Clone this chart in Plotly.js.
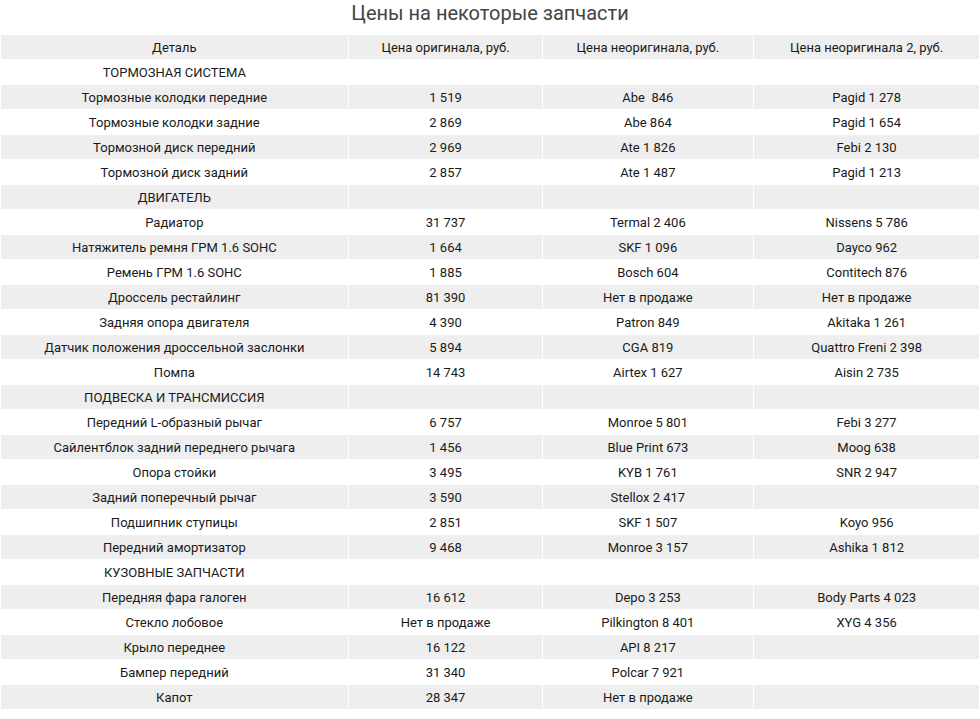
<!DOCTYPE html>
<html>
<head>
<meta charset="utf-8">
<script src="https://cdn.plot.ly/plotly-3.0.1.min.js"></script>
<style>html,body{margin:0;padding:0;background:#fff;}#chart{width:980px;height:719px;}</style>
</head>
<body>
<div id="chart"></div>
<script>
const headers = ["Деталь", "Цена оригинала, руб.", "Цена неоригинала, руб.", "Цена неоригинала 2, руб."];

const parts = [
  "ТОРМОЗНАЯ СИСТЕМА",
  "Тормозные колодки передние",
  "Тормозные колодки задние",
  "Тормозной диск передний",
  "Тормозной диск задний",
  "ДВИГАТЕЛЬ",
  "Радиатор",
  "Натяжитель ремня ГРМ 1.6 SOHC",
  "Ремень ГРМ 1.6 SOHC",
  "Дроссель рестайлинг",
  "Задняя опора двигателя",
  "Датчик положения дроссельной заслонки",
  "Помпа",
  "ПОДВЕСКА И ТРАНСМИССИЯ",
  "Передний L-образный рычаг",
  "Сайлентблок задний переднего рычага",
  "Опора стойки",
  "Задний поперечный рычаг",
  "Подшипник ступицы",
  "Передний амортизатор",
  "КУЗОВНЫЕ ЗАПЧАСТИ",
  "Передняя фара галоген",
  "Стекло лобовое",
  "Крыло переднее",
  "Бампер передний",
  "Капот"
];

const originalPrice = [
  "", "1 519", "2 869", "2 969", "2 857",
  "", "31 737", "1 664", "1 885", "81 390", "4 390", "5 894", "14 743",
  "", "6 757", "1 456", "3 495", "3 590", "2 851", "9 468",
  "", "16 612", "Нет в продаже", "16 122", "31 340", "28 347"
];

const nonOriginal1 = [
  "", "Abe  846", "Abe 864", "Ate 1 826", "Ate 1 487",
  "", "Termal 2 406", "SKF 1 096", "Bosch 604", "Нет в продаже", "Patron 849", "CGA 819", "Airtex 1 627",
  "", "Monroe 5 801", "Blue Print 673", "KYB 1 761", "Stellox 2 417", "SKF 1 507", "Monroe 3 157",
  "", "Depo 3 253", "Pilkington 8 401", "API 8 217", "Polcar 7 921", "Нет в продаже"
];

const nonOriginal2 = [
  "", "Pagid 1 278", "Pagid 1 654", "Febi 2 130", "Pagid 1 213",
  "", "Nissens 5 786", "Dayco 962", "Contitech 876", "Нет в продаже", "Akitaka 1 261", "Quattro Freni 2 398", "Aisin 2 735",
  "", "Febi 3 277", "Moog 638", "SNR 2 947", "", "Koyo 956", "Ashika 1 812",
  "", "Body Parts 4 023", "XYG 4 356", "", "", ""
];

const rowFill = parts.map((_, i) => (i % 2 === 0 ? "#ffffff" : "#eeeeee"));

const trace = {
  type: "table",
  columnwidth: [349, 194, 211, 227],
  header: {
    values: headers,
    align: "center",
    height: 25,
    fill: { color: "#eeeeee" },
    line: { color: "#ffffff", width: 1 },
    font: { family: "Roboto, sans-serif", size: 13, color: "#1a1a1a" }
  },
  cells: {
    values: [parts, originalPrice, nonOriginal1, nonOriginal2],
    align: "center",
    height: 25,
    fill: { color: [rowFill, rowFill, rowFill, rowFill] },
    line: { color: "#ffffff", width: 1 },
    font: { family: "Roboto, sans-serif", size: 13, color: "#1a1a1a" }
  }
};

const layout = {
  width: 980,
  height: 719,
  margin: { l: 0, r: 0, t: 34, b: 0 },
  paper_bgcolor: "#ffffff",
  title: {
    text: "Цены на некоторые запчасти",
    x: 0.5,
    xanchor: "center",
    y: 1 - 13 / 719,
    yanchor: "middle",
    font: { family: "Roboto, sans-serif", size: 20, color: "#444444" }
  }
};

Plotly.newPlot("chart", [trace], layout, { displayModeBar: false });
</script>
</body>
</html>
